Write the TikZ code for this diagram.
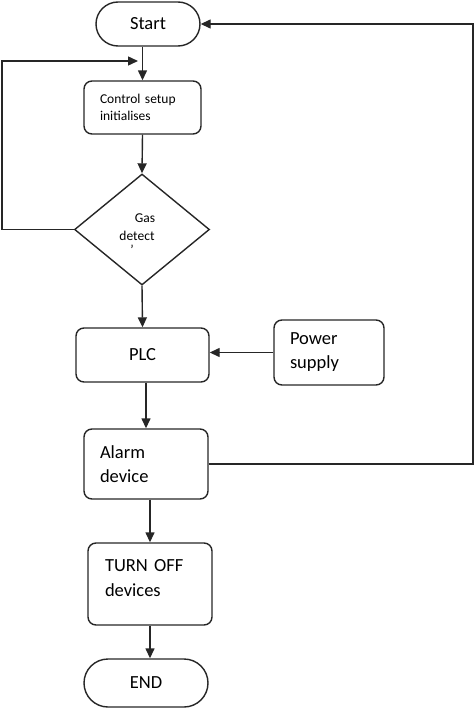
\documentclass[tikz,border=0pt]{standalone}
\usepackage{fontspec}
\setmainfont{Carlito}
\usetikzlibrary{arrows.meta,shapes.geometric}
\begin{document}
\begin{tikzpicture}[x=1pt,y=-1pt,
  line width=1.4pt, draw=black!85,
  box/.style={draw, rounded corners=8pt, inner sep=0pt, font=\fontsize{18.5}{24}\selectfont},
  term/.style={draw, inner sep=0pt, font=\fontsize{18.5}{24}\selectfont},
  arr/.style={-{Triangle[length=10pt,width=9pt]}},
  lbl/.style={inner sep=0pt, font=\fontsize{13.5}{17}\selectfont}]
\useasboundingbox (0,0) rectangle (474,709);
\node[term, rounded corners=22pt, minimum width=104pt, minimum height=44pt] (start) at (148,24) {Start};
\node[box, font=\fontsize{13.5}{17}\selectfont, minimum width=117pt, minimum height=53pt, text width=85pt, align=left] (ctrl) at (142.5,107.5) {Control setup\\initialises};
\node[draw, diamond, inner sep=0pt, minimum width=135pt, minimum height=111pt] (dia) at (142,229.5) {};
\node[lbl] (gas) at (145,218) {Gas};
\node[lbl] (det) at (137,236) {detect};
\node[lbl, font=\fontsize{13.5}{13.5}\selectfont] (tick) at (132,250) {'};
\node[box, minimum width=133pt, minimum height=54pt] (plc) at (142.5,355) {PLC};
\node[box, minimum width=110pt, minimum height=65pt, text width=78pt, align=left] (power) at (329,352.5) {Power\\supply};
\node[box, minimum width=124pt, minimum height=70pt, text width=92pt, align=left] (alarm) at (146,464) {Alarm\\device};
\node[box, minimum width=124pt, minimum height=82pt] (turn) at (150,584) {};
\node[inner sep=0pt, text width=92pt, align=left, font=\fontsize{18.5}{25}\selectfont] (turntxt) at (151,578.5) {TURN OFF\\devices};
\node[term, rounded corners=24pt, minimum width=124pt, minimum height=48pt] (end) at (146,683) {END};
\coordinate (loopend) at (138,61);
\draw[arr] (ctrl.north |- start.south) -- (ctrl.north);
\draw[arr] (ctrl.south) -- (dia.north);
\draw[arr] (dia.south) -- (plc.north);
\draw[arr] (power.west) -- (plc.east |- power.west);
\draw[arr] (alarm.north |- plc.south) -- (alarm.north);
\draw[arr] (turn.north |- alarm.south) -- (turn.north);
\draw[arr] (turn.south) -- (turn.south |- end.north);
\draw[arr] (dia.west) -- (2,229.5) -- (2,61) -- (loopend);
\draw[arr] (alarm.east) -- (473,464) -- (473,24) -- (start.east);
\end{tikzpicture}
\end{document}
